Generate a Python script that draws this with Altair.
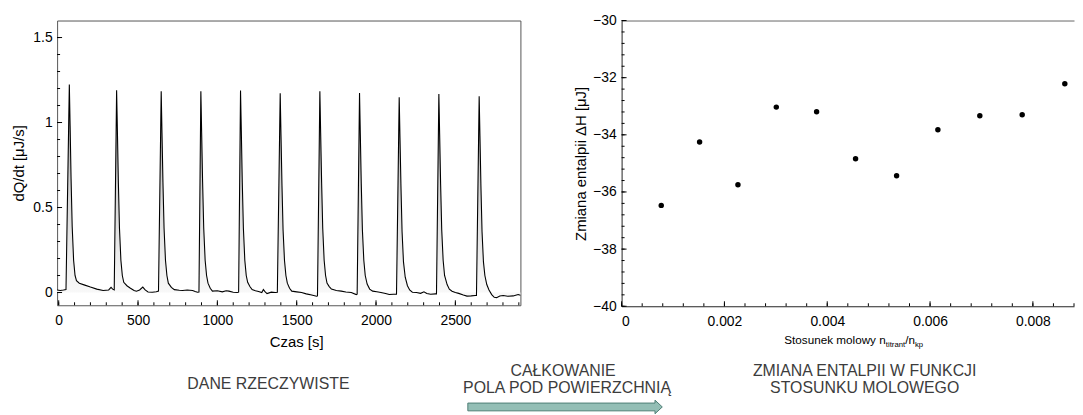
import altair as alt
import pandas as pd

# ---------------- data ----------------
time_s = [-10, 10, 30, 46,
          67, 72, 78, 85, 94, 103, 112, 130, 160, 200, 240, 280, 315, 330, 340, 350,
          365, 370, 376, 383, 392, 401, 410, 430, 450, 475, 490, 510, 530, 545, 563, 590, 615, 629,
          646, 651, 657, 664, 673, 682, 691, 710, 729, 760, 781, 810, 844, 860, 875, 884,
          896, 901, 907, 914, 923, 932, 941, 955, 969, 1000, 1031, 1055, 1073, 1100, 1125, 1134,
          1146, 1151, 1157, 1164, 1173, 1182, 1191, 1205, 1219, 1240, 1260, 1280, 1290, 1300, 1313, 1340, 1365, 1378,
          1396, 1401, 1407, 1414, 1423, 1432, 1441, 1455, 1469, 1500, 1531, 1560, 1594, 1625, 1631,
          1646, 1651, 1657, 1664, 1673, 1682, 1691, 1705, 1719, 1750, 1781, 1810, 1844, 1875, 1881,
          1896, 1901, 1907, 1914, 1923, 1932, 1944, 1960, 1979, 2005, 2031, 2060, 2083, 2110, 2129,
          2146, 2151, 2157, 2164, 2173, 2184, 2198, 2212, 2229, 2255, 2281, 2302, 2320, 2344, 2375, 2381,
          2396, 2401, 2407, 2414, 2423, 2432, 2448, 2462, 2479, 2500, 2521, 2550, 2573, 2600, 2625, 2633,
          2650, 2655, 2661, 2668, 2677, 2686, 2698, 2712, 2729, 2745, 2760, 2780, 2802, 2830, 2865, 2880, 2896, 2910]
dqdt = [0.015, 0.012, 0.015, 0.018,
        1.223, 0.98, 0.67, 0.39, 0.19, 0.10, 0.07, 0.055, 0.045, 0.032, 0.02, 0.012, 0.015, 0.03, 0.02, 0.015,
        1.19, 0.95, 0.65, 0.38, 0.19, 0.10, 0.06, 0.04, 0.027, 0.012, 0.008, 0.015, 0.032, 0.015, 0.003, 0.002, 0.005, 0.008,
        1.184, 0.94, 0.65, 0.38, 0.19, 0.10, 0.055, 0.03, 0.017, 0.013, 0.012, 0.015, 0.012, 0.006, 0.002, 0.003,
        1.184, 0.94, 0.65, 0.38, 0.19, 0.10, 0.055, 0.025, 0.008, 0.01, 0.004, 0.01, 0.008, 0.002, 0.0, 0.002,
        1.188, 0.95, 0.65, 0.38, 0.19, 0.10, 0.06, 0.035, 0.017, 0.01, 0.006, 0.0, 0.018, 0.005, -0.006, 0.002, 0.0, 0.002,
        1.172, 0.93, 0.64, 0.37, 0.19, 0.10, 0.055, 0.025, 0.008, 0.004, 0.0, -0.008, -0.015, -0.022, -0.02,
        1.184, 0.94, 0.65, 0.38, 0.19, 0.10, 0.055, 0.035, 0.02, 0.012, 0.008, 0.003, 0.0, -0.012, -0.01,
        1.174, 0.93, 0.64, 0.37, 0.19, 0.10, 0.05, 0.02, 0.008, 0.004, 0.0, -0.006, -0.012, -0.01, -0.01,
        1.149, 0.91, 0.63, 0.36, 0.18, 0.09, 0.04, 0.015, 0.002, 0.0, -0.005, 0.004, -0.006, -0.01, -0.008, -0.008,
        1.168, 0.93, 0.64, 0.37, 0.19, 0.10, 0.047, 0.02, 0.008, 0.0, -0.005, -0.015, -0.021, -0.02, -0.018, -0.018,
        1.155, 0.92, 0.63, 0.36, 0.18, 0.10, 0.047, 0.015, -0.012, -0.028, -0.03, -0.02, -0.018, -0.022, -0.02, -0.016, -0.012, -0.016]

molar_ratio = [0.000771, 0.001517, 0.002263, 0.003009, 0.003793, 0.004551,
               0.005349, 0.006152, 0.006968, 0.007792, 0.008621]
delta_h = [-36.47, -34.25, -35.75, -33.03, -33.19, -34.84,
           -35.43, -33.82, -33.33, -33.30, -32.21]

left_x_ticks = [0, 500, 1000, 1500, 2000, 2500]
left_x_minor = [i * 100 for i in range(0, 30)]
left_y_ticks = [0, 0.5, 1, 1.5]
left_y_minor = [round(i * 0.1, 1) for i in range(0, 16)]
right_x_ticks = [0, 0.002, 0.004, 0.006, 0.008]
right_x_minor = [round(i * 0.0004, 4) for i in range(0, 23)]
right_y_ticks = [-40, -38, -36, -34, -32, -30]
right_y_minor = [round(-40 + i * 0.4, 1) for i in range(0, 26)]

text_left = "DANE RZECZYWISTE"
text_mid = ["CAŁKOWANIE", "POLA POD POWIERZCHNIĄ"]
text_right = ["ZMIANA ENTALPII W FUNKCJI", "STOSUNKU MOLOWEGO"]
xtitle_parts = ["Stosunek molowy n", "titrant", "/n", "kp"]

trace = pd.DataFrame({"t": time_s, "v": dqdt})
points = pd.DataFrame({"r": molar_ratio, "h": delta_h})

FONT = "Liberation Sans"
W1, H1 = 467, 287
W2, H2 = 456, 288
FRAME = "#555555"
MAJ, MIN = 5, 3

xs1 = alt.Scale(domain=[-10, 2910], nice=False, zero=False)
ys1 = alt.Scale(domain=[-0.075, 1.6], nice=False, zero=False)
xs2 = alt.Scale(domain=[0, 0.0088], nice=False, zero=False)
ys2 = alt.Scale(domain=[-40, -30], nice=False, zero=False)


def frame_axis(orient, color):
    return alt.Axis(orient=orient, labels=False, ticks=False, domain=True,
                    domainColor=color, domainWidth=1, grid=False)


def x_ticks(values, scale, h, size):
    return alt.Chart(pd.DataFrame({"tv": values})).mark_rule(
        color="black", strokeWidth=1).encode(
        x=alt.X("tv:Q", scale=scale, axis=None),
        y=alt.value(h), y2=alt.value(h - size))


def y_ticks(values, scale, size):
    return alt.Chart(pd.DataFrame({"tv": values})).mark_rule(
        color="black", strokeWidth=1).encode(
        y=alt.Y("tv:Q", scale=scale, axis=None),
        x=alt.value(0), x2=alt.value(size))


gradient = alt.Gradient(
    gradient="linear",
    stops=[alt.GradientStop(color="#8a8a8a", offset=0),
           alt.GradientStop(color="#d2d2d2", offset=0.45),
           alt.GradientStop(color="#fafafa", offset=1)],
    x1=1, x2=1, y1=0, y2=1)

base1 = alt.Chart(trace)

area = base1.mark_area(color=gradient, interpolate="linear").encode(
    x=alt.X("t:Q", scale=xs1, title="Czas [s]",
            axis=alt.Axis(orient="bottom", values=left_x_ticks, format="d",
                          ticks=False, domain=True, domainColor=FRAME,
                          labelPadding=8, titlePadding=8, titleX=241,
                          titleAlign="center", grid=False)),
    y=alt.Y("v:Q", scale=ys1, title="dQ/dt [μJ/s]",
            axis=alt.Axis(orient="left", values=left_y_ticks, format="~g",
                          ticks=False, domain=True, domainColor=FRAME,
                          labelPadding=5, titlePadding=6, grid=False)),
    y2=alt.datum(0),
)

line = base1.mark_line(color="black", strokeWidth=1.1, interpolate="linear").encode(
    x=alt.X("t:Q", scale=xs1, title=None, axis=frame_axis("top", FRAME)),
    y=alt.Y("v:Q", scale=ys1, title=None, axis=frame_axis("right", FRAME)),
)

TEXT_COLOR = "#3c3c3c"
TX, TY = 57, 19   # page position of the left plot origin


def label(text, x, y, size=16, color=TEXT_COLOR, align="center"):
    return alt.Chart(pd.DataFrame({"s": [text]})).mark_text(
        font=FONT, fontSize=size, color=color, align=align,
        baseline="alphabetic"
    ).encode(x=alt.value(x), y=alt.value(y), text="s:N")


arrow_path = ("M-1,-0.04 L0.925,-0.04 L0.925,-0.07 L1,0 L0.925,0.07 "
              "L0.925,0.04 L-1,0.04 Z")
arrow = alt.Chart(pd.DataFrame({"s": ["arrow"]})).mark_point(
    shape=arrow_path, size=196 * 196, filled=True, fill="#93beb5",
    stroke="#4d7d74", strokeWidth=1, opacity=1
).encode(x=alt.value(569 - TX), y=alt.value(408.5 - TY))

left = alt.layer(
    area, line,
    x_ticks(left_x_minor, xs1, H1, MIN), x_ticks(left_x_ticks, xs1, H1, MAJ),
    y_ticks(left_y_minor, ys1, MIN), y_ticks(left_y_ticks, ys1, MAJ),
    label(text_left, 270 - TX, 390 - TY),
    label(text_mid[0], 567 - TX, 377.5 - TY),
    label(text_mid[1], 571 - TX, 394 - TY),
    label(text_right[0], 871 - TX, 377.5 - TY),
    label(text_right[1], 871 - TX, 394 - TY),
    arrow,
).resolve_axis(x="independent", y="independent").properties(width=W1, height=H1)

RX, RY = 626, 19  # page position of the right plot origin
base2 = alt.Chart(points)
dots = base2.mark_circle(size=30, color="black", opacity=1).encode(
    x=alt.X("r:Q", scale=xs2, title=None,
            axis=alt.Axis(orient="bottom", values=right_x_ticks, format="~g",
                          ticks=False, domain=True, domainColor="#222222",
                          labelPadding=8, grid=False)),
    y=alt.Y("h:Q", scale=ys2, title="Zmiana entalpii ΔH [μJ]",
            axis=alt.Axis(orient="left", values=right_y_ticks, format="~g",
                          ticks=False, domain=True, domainColor="#222222",
                          labelPadding=5.5, titlePadding=4, grid=False)),
)
frame2 = base2.mark_point(opacity=0).encode(
    x=alt.X("r:Q", scale=xs2, title=None, axis=frame_axis("top", "#666666")),
    y=alt.Y("h:Q", scale=ys2, title=None, axis=None),
)

XT0 = 790 - RX
XTB = 345.5 - RY
MS, SS = 11.8, 7.8
w_main = 8.67 * MS
w_sub = 2.501 * SS
w_slash = 0.834 * MS
right = alt.layer(
    dots, frame2,
    x_ticks(right_x_minor, xs2, H2, MIN), x_ticks(right_x_ticks, xs2, H2, MAJ),
    y_ticks(right_y_minor, ys2, MIN), y_ticks(right_y_ticks, ys2, MAJ),
    label(xtitle_parts[0], XT0, XTB, MS, "black", "left"),
    label(xtitle_parts[1], XT0 + w_main, XTB + 2.5, SS, "black", "left"),
    label(xtitle_parts[2], XT0 + w_main + w_sub, XTB, MS, "black", "left"),
    label(xtitle_parts[3], XT0 + w_main + w_sub + w_slash, XTB + 2.5, SS, "black", "left"),
).resolve_axis(x="independent", y="independent").properties(width=W2, height=H2)

chart = alt.hconcat(left, right, spacing=102, bounds="flush").properties(
    padding={"left": 3.5, "top": 4, "right": 0, "bottom": 0}
).configure_view(stroke=None).configure_axis(
    labelFont=FONT, titleFont=FONT, labelFontSize=14, titleFontSize=15,
    labelColor="black", titleColor="black", titleFontWeight="normal"
)

chart.save("out.html", embed_options={"renderer": "svg", "actions": False})
